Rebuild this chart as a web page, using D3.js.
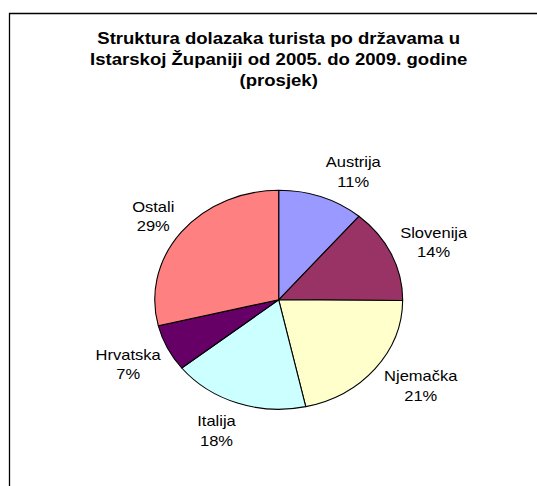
<!DOCTYPE html>
<html>
<head>
<meta charset="utf-8">
<script src="https://cdn.jsdelivr.net/npm/d3@7"></script>
<style>
  html, body { margin: 0; padding: 0; background: #fff; }
  svg { display: block; }
</style>
</head>
<body>
<svg id="chart" width="537" height="486"></svg>
<script>
// ---- data ----
const titleLines = [
  "Struktura dolazaka turista po državama u",
  "Istarskoj Županiji od 2005. do 2009. godine",
  "(prosjek)"
];
const categories = ["Austrija", "Slovenija", "Njemačka", "Italija", "Hrvatska", "Ostali"];
const values = [11.2, 13.9, 21.4, 17.8, 6.9, 28.8];
const colors = ["#9999FF", "#993366", "#FFFFCC", "#CCFFFF", "#660066", "#FF8080"];

// ---- layout ----
const W = 537, H = 486;
const sx = 1.132;              // horizontal stretch of the original picture
const cx = 278.7 / sx, cy = 299.8;
const radius = 109.5;
const labelRadius = 145;
const labelNudge = [[15.9, 8], [5.1, 3], [12.6, -5.2], [-6.7, -5.9], [-2.8, 0.6], [3.2, 6]];
const font = "'Liberation Sans', Arial, Helvetica, sans-serif";

const svg = d3.select("#chart");
svg.append("rect").attr("width", W).attr("height", H).attr("fill", "#fff");

// frame (top and left edges visible)
svg.append("path")
  .attr("d", d3.line()([[9.5, H], [9.5, 13.5], [W, 13.5]]))
  .attr("fill", "none").attr("stroke", "#000").attr("stroke-width", 1.3);

const g = svg.append("g").attr("transform", `scale(${sx},1)`);

// title
g.append("g").selectAll("text").data(titleLines).join("text")
  .attr("x", cx)
  .attr("y", (d, i) => 44.3 + i * 21)
  .attr("text-anchor", "middle")
  .attr("font-family", font)
  .attr("font-weight", "bold")
  .attr("font-size", 16.4)
  .attr("fill", "#000")
  .text(d => d);

const total = d3.sum(values);
const pie = d3.pie().sort(null).value(d => d.value)
  .startAngle(0).endAngle(2 * Math.PI);
const arcs = pie(categories.map((c, i) => ({ name: c, value: values[i], color: colors[i] })));
const arc = d3.arc().innerRadius(0).outerRadius(radius);
const labelArc = d3.arc().innerRadius(labelRadius).outerRadius(labelRadius);

const pg = g.append("g").attr("transform", `translate(${cx},${cy})`);
pg.selectAll("path").data(arcs).join("path")
  .attr("d", arc)
  .attr("fill", d => d.data.color)
  .attr("stroke", "#000")
  .attr("stroke-width", 1.1)
  .attr("stroke-linejoin", "round")
  .attr("vector-effect", "non-scaling-stroke");

const lab = pg.selectAll("g.lab").data(arcs).join("g")
  .attr("class", "lab")
  .attr("transform", (d, i) => {
    const [x, y] = labelArc.centroid(d);
    return `translate(${x + labelNudge[i][0]},${y + labelNudge[i][1]})`;
  });
lab.append("text")
  .attr("y", -4.35)
  .attr("text-anchor", "middle")
  .attr("font-family", font)
  .attr("font-size", 14.6)
  .attr("fill", "#000")
  .text(d => d.data.name);
lab.append("text")
  .attr("y", 14.95)
  .attr("text-anchor", "middle")
  .attr("font-family", font)
  .attr("font-size", 14.6)
  .attr("fill", "#000")
  .text(d => Math.round(d.data.value / total * 100) + "%");
</script>
</body>
</html>
